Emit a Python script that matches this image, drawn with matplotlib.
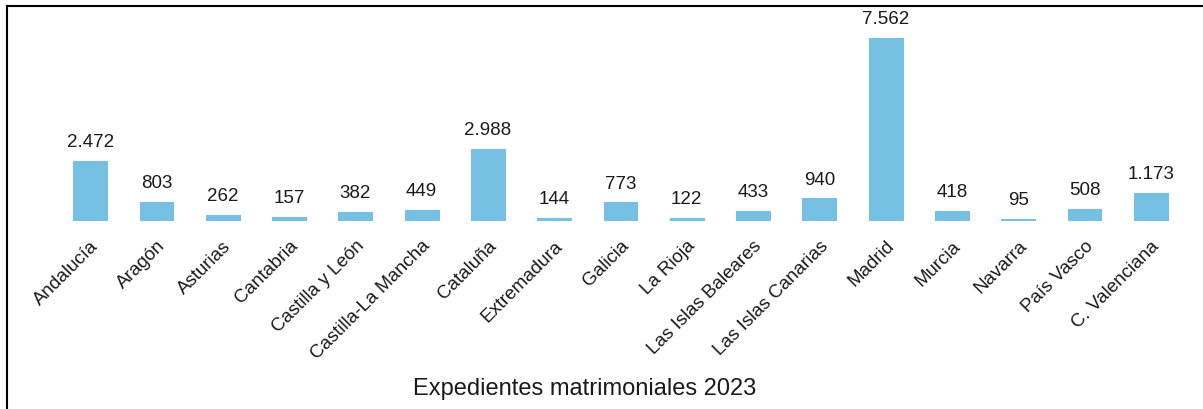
import matplotlib.pyplot as plt
from matplotlib.lines import Line2D

# Expedientes matrimoniales por comunidad, 2023
regiones = ["Andalucía", "Aragón", "Asturias", "Cantabria", "Castilla y León",
            "Castilla-La Mancha", "Cataluña", "Extremadura", "Galicia", "La Rioja",
            "Las Islas Baleares", "Las Islas Canarias", "Madrid", "Murcia", "Navarra",
            "País Vasco", "C. Valenciana"]
expedientes = [2472, 803, 262, 157, 382, 449, 2988, 144, 773, 122,
               433, 940, 7562, 418, 95, 508, 1173]

plt.rcParams['font.family'] = ['Liberation Sans', 'DejaVu Sans']

W, H = 1203, 409
fig = plt.figure(figsize=(W / 100, H / 100), dpi=100)
ax = fig.add_axes([57 / W, (H - 221) / H, 1127 / W, 201 / H])

x = range(len(regiones))
bars = ax.bar(x, expedientes, width=0.51, color="#75C0E3",
              edgecolor="#75C0E3", linewidth=0.8)
etiquetas = [f"{v:,}".replace(",", ".") for v in expedientes]
ax.bar_label(bars, labels=etiquetas, padding=7, fontsize=13.5, color="#1a1a1a")

ax.set_xlim(-0.5, len(regiones) - 0.5)
ax.set_ylim(0, 8300)
ax.set_xticks(list(x))
ax.set_xticklabels(regiones, rotation=45, ha="right", rotation_mode="anchor",
                   fontsize=13.5, color="#1a1a1a")
ax.tick_params(axis="x", length=0, pad=12)
ax.set_yticks([])
for s in ax.spines.values():
    s.set_visible(False)

fig.text(585 / W, (H - 389) / H, "Expedientes matrimoniales 2023", ha="center",
         va="center", fontsize=17, color="#1a1a1a")

# marco exterior
fig.add_artist(Line2D([7 / W, 7 / W], [0, 1 - 6 / H], color="black", lw=1.5))
fig.add_artist(Line2D([7 / W, 1], [1 - 6 / H, 1 - 6 / H], color="black", lw=1.5))

fig.savefig("out.png", dpi=100)
